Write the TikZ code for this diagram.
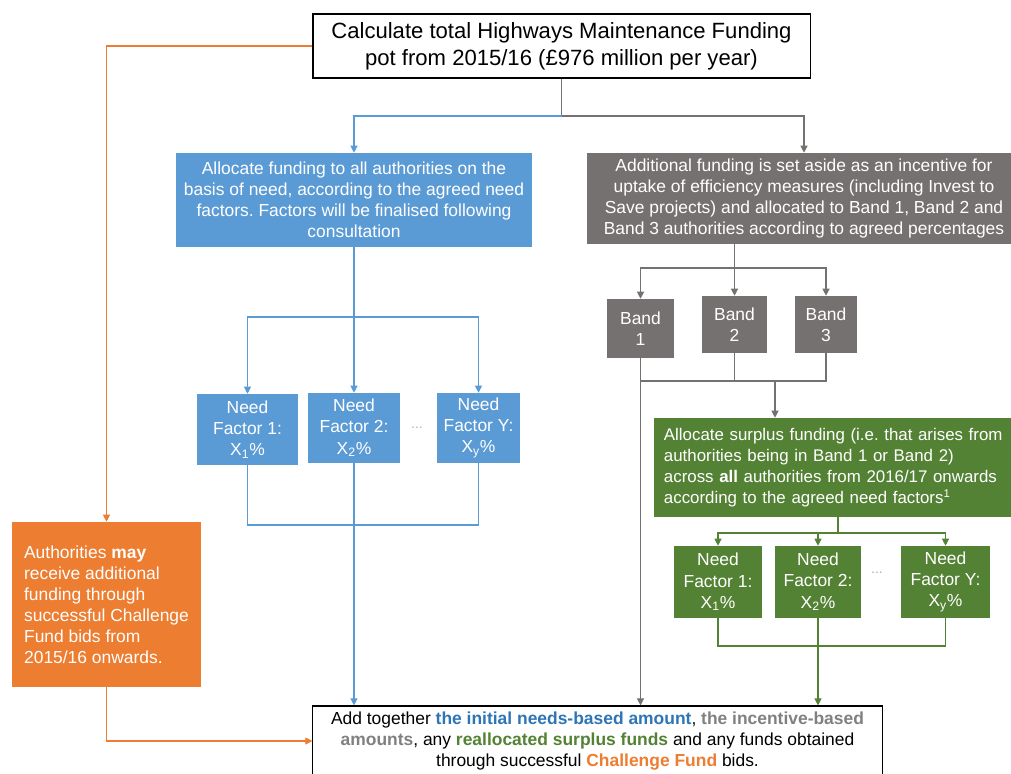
\documentclass[tikz,border=0pt]{standalone}
\usepackage{fontspec}
\setmainfont{Liberation Sans}
\usepackage{xcolor}
\usetikzlibrary{arrows.meta,calc}
\definecolor{hmblue}{HTML}{5B9BD5}
\definecolor{hmgrey}{HTML}{767171}
\definecolor{hmgreen}{HTML}{548235}
\definecolor{hmorange}{HTML}{ED7D31}
\definecolor{hmbluetxt}{HTML}{2E75B6}
\definecolor{hmgreytxt}{HTML}{808080}
\frenchspacing
\tikzset{>={Triangle[width=5pt,length=5pt]}}
\tikzset{
  box/.style={inner sep=0pt,font=\fontsize{12.4}{15}\selectfont,text=white,align=center},
  topbox/.style={box,draw=black,line width=0.8pt,text=black,fill=white,font=\fontsize{15.7}{19}\selectfont},
  bluebox/.style={box,fill=hmblue},
  greybox/.style={box,fill=hmgrey},
  greenbox/.style={box,fill=hmgreen},
  orangebox/.style={box,fill=hmorange},
  addbox/.style={box,draw=black,line width=0.8pt,text=black,fill=white},
  dots/.style={inner sep=0pt,text=gray!60,font=\fontsize{10}{12}\selectfont},
  blueline/.style={draw=hmblue,line width=0.8pt},
  greyline/.style={draw=hmgrey,line width=0.8pt},
  greenline/.style={draw=hmgreen,line width=0.8pt},
  orangeline/.style={draw=hmorange,line width=0.8pt}
}

\begin{document}
\begin{tikzpicture}[x=0.025cm,y=-0.025cm]
  \useasboundingbox (0,0) rectangle (1011,774);

  % Boxes
  \node[topbox,minimum width=12.425cm,minimum height=1.6cm] (pot) at (561.5,46)
    {Calculate total Highways Maintenance Funding\\pot from 2015/16 (£976 million per year)};
  \node[bluebox,minimum width=8.9cm,minimum height=2.35cm] (need) at (354,200)
    {Allocate funding to all authorities on the\\basis of need, according to the agreed need\\factors. Factors will be finalised following\\consultation};
  \node[greybox,minimum width=10.85cm,minimum height=2.275cm] (extra) at (804,198.5)
    {Additional funding is set aside as an incentive for\\uptake of efficiency measures (including Invest to\\Save projects) and allocated to Band 1, Band 2 and\\Band 3 authorities according to agreed percentages};
  \node[greybox,minimum width=1.675cm,minimum height=1.475cm] (band1) at (640.5,328.5) {Band\\1};
  \node[greybox,minimum width=1.625cm,minimum height=1.425cm] (band2) at (734.5,324.5) {Band\\2};
  \node[greybox,minimum width=1.55cm,minimum height=1.425cm] (band3) at (826,324.5) {Band\\3};
  \node[greenbox,align=left,text width=9.3cm,inner xsep=0.25cm,minimum height=2.475cm,font=\fontsize{12}{15}\selectfont] (surplus) at (850,467.5)
    {Allocate surplus funding (i.e. that arises from\\authorities being in Band 1 or Band 2)\\across \textbf{all} authorities from 2016/17 onwards\\according to the agreed need factors\textsuperscript{1}};
  \node[orangebox,align=left,minimum width=4.725cm,minimum height=4.125cm] (may) at (106.5,604.5)
    {Authorities \textbf{may}\\receive additional\\funding through\\successful Challenge\\Fund bids from\\2015/16 onwards.};

  % Need factors
  \node[bluebox,minimum width=2.525cm,minimum height=1.775cm] (nf1) at (247.5,429.5) {Need\\Factor 1:\\X\textsubscript{1}\%};
  \node[bluebox,minimum width=2.3cm,minimum height=1.75cm] (nf2) at (354,428) {Need\\Factor 2:\\X\textsubscript{2}\%};
  \node[bluebox,minimum width=2.075cm,minimum height=1.75cm] (nfy) at (478.5,428) {Need\\Factor Y:\\X\textsubscript{y}\%};
  \node[dots] (bdots) at (417,428) {...};
  \node[greenbox,minimum width=2.2cm,minimum height=1.8cm] (gnf1) at (718,582) {Need\\Factor 1:\\X\textsubscript{1}\%};
  \node[greenbox,minimum width=2.15cm,minimum height=1.8cm] (gnf2) at (818,582) {Need\\Factor 2:\\X\textsubscript{2}\%};
  \node[greenbox,minimum width=2.225cm,minimum height=1.8cm] (gnfy) at (945.5,582) {Need\\Factor Y:\\X\textsubscript{y}\%};
  \node[dots] (gdots) at (877,573) {...};

  \node[addbox,minimum width=14.225cm,minimum height=1.75cm] (add) at (597.5,741)
    {Add together \textcolor{hmbluetxt}{\textbf{the initial needs-based amount}}, \textcolor{hmgreytxt}{\textbf{the incentive-based}}\\
     \textcolor{hmgreytxt}{\textbf{amounts}}, any \textcolor{hmgreen}{\textbf{reallocated surplus funds}} and any funds obtained\\
     through successful \textcolor{hmorange}{\textbf{Challenge Fund}} bids.};

  % Junctions
  \coordinate (split) at (561.5,116);
  \coordinate (bsplit) at (354,317);
  \coordinate (bjoin) at (354,525);
  \coordinate (gsplit) at (734.5,268);
  \coordinate (gjoin) at (775,381);
  \coordinate (vsplit) at (838,533);
  \coordinate (vjoin) at (818,646);

  % Lines
  \draw[greyline] (pot.south) -- (split);
  \draw[blueline,->] (split) -| (need.north);
  \draw[greyline,->] (split) -| (extra.north);
  \draw[orangeline,->] (pot.west) -| (may.north);
  \draw[orangeline,->] (may.south) |- (add.west);

  \draw[blueline] (need.south) -- (bsplit);
  \draw[blueline,->] (bsplit) -| (nf1.north);
  \draw[blueline,->] (bsplit) -- (nf2.north);
  \draw[blueline,->] (bsplit) -| (nfy.north);
  \draw[blueline] (nf1.south) |- (bjoin) -| (nfy.south);
  \draw[blueline,->] (nf2.south) -- (nf2.south |- add.north);

  \draw[greyline] (extra.south -| gsplit) -- (gsplit);
  \draw[greyline,->] (gsplit) -| (band1.north);
  \draw[greyline,->] (gsplit) -- (band2.north);
  \draw[greyline,->] (gsplit) -| (band3.north);
  \draw[greyline,->] (band1.south) -- (band1.south |- add.north);
  \draw[greyline] (band1.south |- gjoin) -| (band3.south);
  \draw[greyline] (band2.south) -- (band2.south |- gjoin);
  \draw[greyline,->] (gjoin) -- (gjoin |- surplus.north);

  \draw[greenline] (surplus.south -| vsplit) -- (vsplit);
  \draw[greenline,->] (vsplit) -| (gnf1.north);
  \draw[greenline,->] (vsplit) -| (gnf2.north);
  \draw[greenline,->] (vsplit) -| (gnfy.north);
  \draw[greenline] (gnf1.south) |- (vjoin) -| (gnfy.south);
  \draw[greenline,->] (gnf2.south) -- (gnf2.south |- add.north);
\end{tikzpicture}
\end{document}
